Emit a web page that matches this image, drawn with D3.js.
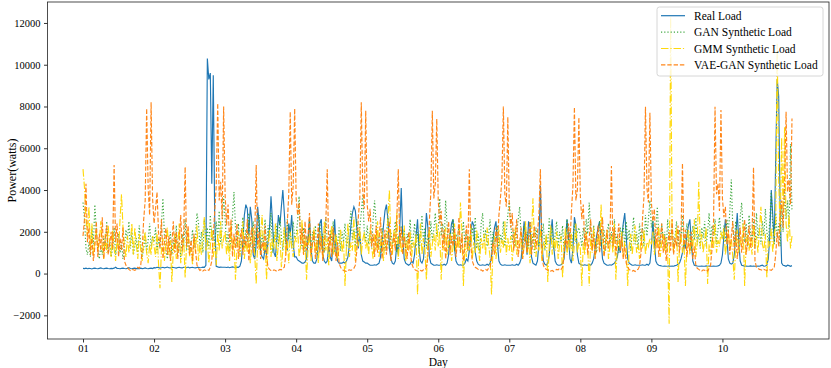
<!DOCTYPE html>
<html><head><meta charset="utf-8">
<script src="https://cdn.jsdelivr.net/npm/d3@7"></script>
<style>
body{margin:0;background:#fff}
svg{display:block}
text{font-family:"Liberation Serif","Times New Roman",Times,serif;fill:#000}
</style>
</head><body>
<svg id="chart" width="831" height="368"></svg>
<script>
// ---------------- data (30-minute samples, 10 days) ----------------
const dayLabels = ["01","02","03","04","05","06","07","08","09","10"];
const samplesPerDay = 48;
const seriesNames = ["Real Load","GAN Synthetic Load","GMM Synthetic Load","VAE-GAN Synthetic Load"];

const realLoad = [
250,240,260,230,250,240,220,250,260,240,230,250,270,240,230,250,260,240,230,250,240,260,300,250,240,230,250,260,240,230,250,280,240,230,250,260,240,250,230,260,240,250,270,240,230,250,260,240,
280,270,300,290,260,280,300,270,290,310,280,270,300,290,280,260,290,300,280,270,300,290,280,310,270,290,300,280,270,290,300,280,290,310,300,400,10300,9300,9600,4300,9500,2500,350,320,300,310,300,300,
300,290,310,280,300,320,300,290,310,300,350,600,1500,2800,3300,3100,1800,3200,2600,900,700,1400,3200,2400,1000,800,700,1200,900,1500,2200,3700,2500,1000,800,1700,2800,2300,3200,4000,2900,1600,1100,2400,1900,2800,1400,800,
800,650,600,550,500,500,550,700,1600,2600,1200,600,500,500,700,1400,2400,2600,900,600,500,600,1300,800,600,1500,2600,1100,600,500,500,500,550,500,600,800,1400,2300,2900,3200,3000,2200,1200,2000,900,600,550,500,
500,450,400,400,400,420,400,450,500,800,1500,2300,3000,3300,2600,1200,700,500,450,600,1400,900,2200,4100,1800,700,500,450,400,450,600,500,900,1800,2600,1200,600,500,700,1600,2900,2200,800,500,450,400,400,420,
400,400,420,400,450,400,500,900,1800,2400,2600,1200,600,450,400,420,400,400,500,700,600,1100,2000,2500,2300,1000,600,450,400,400,420,400,400,450,400,500,800,1600,2200,2500,1400,600,450,400,400,420,400,400,
400,400,420,400,400,450,400,500,700,1500,2500,1800,900,2500,2200,800,500,450,400,600,1400,4200,1500,600,450,400,500,900,1900,2600,1300,600,450,400,400,420,500,700,1600,2600,1800,700,500,1200,2700,2300,900,500,
450,400,400,420,400,400,450,400,500,700,1200,1800,2200,2500,1600,700,500,450,400,400,420,400,450,500,600,800,1300,1000,1700,2400,2900,1800,700,500,450,400,400,420,400,400,400,400,420,400,400,450,400,500,
1200,2500,1500,600,450,400,380,360,350,360,350,350,370,350,360,350,380,400,450,500,700,1000,1500,1200,1800,2300,2600,1500,600,400,380,360,350,350,360,350,350,370,350,360,350,350,360,350,350,370,400,500,
900,1800,2600,1700,700,500,450,500,900,1800,2900,1600,600,400,380,350,360,350,350,370,350,360,350,350,360,350,380,400,350,360,400,700,1800,4000,2800,1500,5500,9300,8500,3000,500,400,380,350,400,380,350,380
];

const ganLoad = [
3400,2600,1200,900,1500,800,2200,1400,3300,2000,1100,700,1300,900,1800,1200,2500,1000,1600,800,1200,2200,900,1400,1900,1000,1500,700,1300,2100,1600,2500,1200,2000,900,1300,1700,1000,2300,1400,800,1200,1900,1000,1600,2400,1300,1800,
1500,2200,1000,1700,1200,2400,3600,1800,1100,700,1400,2000,900,1600,1200,2300,1000,1500,800,1900,1300,2600,1100,1700,900,1400,2100,1200,1800,2900,2400,1300,2000,1000,2600,1500,2200,1200,2800,1600,2100,1300,2500,1700,3000,1400,2300,3700,
2600,1400,2000,1100,1700,2800,3900,2200,1300,2400,1000,1900,2700,1200,2100,1500,2900,1300,1800,2500,1000,2200,1600,2800,1100,1900,1400,2600,1200,2300,1700,2900,1000,2000,1500,2400,1300,2700,1800,1100,2200,1400,2600,1600,2100,1200,2500,1700,
1900,2500,3700,1600,1200,2200,1000,1800,1400,2600,1100,2000,1500,2300,900,1700,2400,1200,1900,1000,2700,1500,1200,2100,1600,2500,1000,1800,1300,2200,1100,2000,1500,2400,1200,1700,2300,3000,1600,2100,1300,2600,1800,2200,2900,3800,2000,1500,
2300,1400,2000,1200,2600,3500,2400,1300,1800,1000,2200,1500,1100,1900,2700,1200,2000,1400,1700,2500,1000,1800,1300,2300,1600,2100,1100,1900,1400,2600,1200,1700,2400,1300,2000,1000,1800,2800,1500,2200,1200,1900,1400,2500,1600,2100,2900,1800,
2100,3600,1800,2400,1500,3500,2300,1200,2000,1400,2600,1100,1900,1500,2300,1000,1700,2500,1300,2000,1100,1800,1400,2200,1600,2700,1200,1900,1000,2400,2900,1500,2100,1300,1800,2600,1100,2000,1400,1700,2300,1200,1900,1500,2500,1300,2000,2800,
3500,2400,1500,2100,1300,1900,2600,3200,1800,1100,2300,1500,2000,1200,2500,1400,1900,1000,2200,1600,1300,2100,1700,2400,1100,1800,1400,2700,1600,2200,1200,1900,2500,1300,2000,1500,2300,1000,1700,2600,1400,2100,1200,1800,2400,1500,2000,2200,
1800,1300,2200,1600,2600,1900,3400,2000,1200,2300,1500,1000,1900,2500,1300,1700,2100,1100,1800,2400,1400,2000,1200,2600,1500,1900,1000,2200,1700,2300,1300,2500,1600,2100,1100,1900,2700,1400,2000,1200,2400,1600,2200,1300,2800,1800,2600,3500,
2200,2700,1500,2100,3200,1800,1300,2400,1600,2000,1100,2600,1400,1900,2300,1200,1800,2500,1300,2100,1600,2800,1200,1700,2400,1500,2000,1100,2300,1600,2700,1400,1900,1200,2200,1700,2500,1300,2000,2900,1500,2300,1800,2600,1400,2100,2700,1900,
1700,2300,1500,2600,2000,3000,4500,2200,1400,2500,1800,1200,2700,3400,2100,1500,2400,1300,2800,1900,1600,2600,1200,2900,1700,2300,1400,2500,1800,3100,2000,1500,2600,3900,2200,1400,2900,1700,2400,1300,3300,2000,4100,2600,3500,2200,6200,3000
];

const gmmLoad = [
5000,4100,2600,1800,3200,1200,2400,900,1600,2000,1100,1500,2500,1300,700,1900,1000,2300,1400,800,2100,1200,600,1700,1100,2600,3800,2200,1300,800,1800,1000,1500,2400,900,2200,1400,700,1900,1100,600,1600,2000,1000,500,1400,900,1800,
1300,800,2000,500,-700,1200,1700,600,1400,2200,900,1600,-400,1100,1900,700,1300,2400,500,1000,1700,-200,1500,2100,800,1200,400,1800,1000,2300,600,1400,900,2000,2700,1100,1600,500,1300,2200,800,1500,400,1900,1100,2500,1200,1700,
2000,900,1500,600,2300,1100,1700,-300,1200,2000,800,1400,2500,700,1600,1000,1900,500,1300,2200,900,-500,1500,1100,1800,2800,1000,1600,-300,1300,2100,800,1700,1200,2400,600,1400,1900,300,1100,2200,900,1600,500,2000,1300,800,1800,
1500,2100,800,1300,2600,900,1700,-300,1200,1900,600,1400,2200,1000,1600,500,2000,1300,800,2500,1100,1700,400,1500,2300,900,1400,1900,700,1200,2100,1000,1600,-600,1300,2400,800,1500,1100,2700,600,1800,1300,2200,900,1600,2000,1200,
1600,900,2200,1300,700,1900,1100,2500,800,1400,2000,600,1700,1200,2600,4000,1500,900,2100,1300,2900,700,1800,1000,1400,2300,600,1600,1100,2000,800,1500,1200,1900,-1000,1300,2400,900,1700,1100,-300,1500,2200,800,1400,1900,1100,2400,
1300,2000,-300,1600,1100,2200,900,1500,1900,600,1300,2400,1000,1700,1200,3400,2000,-600,1400,800,1800,1100,2300,700,1500,1000,2100,1300,600,1700,1200,1900,900,2200,1400,800,-1000,1300,1800,700,1500,2100,1000,1600,1200,2500,900,1700,
1100,1800,600,1400,2200,900,1600,1200,2000,700,1300,2500,1000,1700,500,1900,3600,1400,800,1600,1100,2100,600,1500,1200,1900,-400,1300,2300,900,1700,1100,2000,700,1400,1800,-200,1300,2200,900,1600,1100,1900,600,1400,2400,1000,1500,
1200,-600,1500,900,2000,1300,-600,1700,1000,2200,800,1400,1900,1100,3300,1600,900,1500,2100,700,1300,1800,1000,2400,-300,1400,1700,1100,2000,800,1500,1200,-600,1300,1900,900,1600,2300,1000,1400,700,1800,1200,2100,900,1500,1300,1700,
1400,2000,900,1600,1200,2300,800,1500,1900,1100,1700,900,-2400,12270,1800,1000,1500,2200,-400,1300,1900,1000,1600,-600,1400,2100,900,1700,1200,2600,800,1500,4400,1300,1900,1000,1600,2200,-500,1400,900,1800,1200,2400,1000,1600,1300,2000,
1600,2200,900,1500,2000,1200,1700,800,-300,1400,2100,1000,1600,1300,2400,-600,1500,1900,1100,1700,900,2300,1300,1800,1000,2000,3200,1400,1100,1900,-200,1600,1300,2200,1000,1800,2500,11000,4500,2000,6500,3000,7000,2400,1500,2800,1200,1800
];

const vaeGanLoad = [
1800,2600,4300,1500,2200,900,1700,600,1300,2500,800,1900,1100,2700,700,1600,2300,900,1400,2000,1200,5200,1500,2400,800,1700,1100,2200,600,400,300,200,150,200,180,150,200,300,250,400,1200,2600,3500,7900,4100,2800,8200,3600,
2400,3100,3900,2000,1200,2600,700,1500,2200,900,1800,600,1400,2500,1000,2000,700,1600,2800,1100,1900,5100,1300,2300,900,1600,600,1900,1100,400,250,150,200,120,180,150,200,150,300,600,1800,3000,4200,8150,3500,4400,2600,8000,
3800,2300,3300,1500,2600,800,1900,1200,2400,700,1600,2100,900,1800,1300,2600,600,1500,2200,1000,1700,5200,1200,2000,700,1500,1100,2300,800,300,200,150,120,180,150,100,150,200,180,250,300,900,2400,3800,7750,3300,4200,7900,
3600,2800,3400,1400,2200,900,2500,1100,1700,2900,800,1500,2000,700,1300,2400,1000,1800,600,1400,2300,5000,1100,1900,800,2200,1300,600,1500,500,300,200,150,120,100,150,180,150,200,250,400,1100,2700,3600,8200,4000,3100,7800,
3300,2500,3100,1300,1900,800,2300,1000,1600,2700,700,1400,2100,900,1700,2500,600,1300,1900,1100,2600,5000,1400,2200,900,1800,1200,700,2000,1100,500,300,200,150,120,100,150,120,180,200,300,800,2500,3900,7800,3600,4300,7400,
3500,2400,3000,1200,2100,700,1600,2500,900,1800,1300,2200,800,1500,2700,1000,1900,600,1400,2300,1100,5000,1300,600,400,300,250,200,150,180,120,150,200,150,250,300,700,1500,900,2200,1300,2800,3600,4500,8000,3800,3200,7500,
3200,2200,2900,1100,1800,2600,800,1500,2200,700,1400,2000,1000,1700,2500,900,1600,2300,1200,1900,2800,5000,900,400,250,200,150,180,120,150,100,150,200,180,250,200,300,900,1800,1200,2400,1500,3000,4200,7960,3500,4000,7480,
3700,2600,3300,1300,2000,900,1700,2600,1100,1900,700,1500,2300,1000,1800,2700,800,1400,2100,1200,1700,5150,1300,2200,900,1600,2400,1100,1800,700,1300,500,300,200,150,120,150,100,180,200,350,1000,2600,3700,7990,4100,3400,7700,
3400,2500,3100,1200,2200,800,1600,2400,1000,1800,600,1400,2000,1100,2600,900,1700,1300,2300,1000,1900,5280,1200,2100,800,1500,1100,2000,700,1300,400,250,200,150,120,180,150,200,120,250,400,1200,2500,7990,3800,4300,3000,7830,
3600,2700,3200,1400,2100,900,1800,2500,1100,2000,700,1500,2200,1000,1700,2600,900,1500,2300,1200,1800,5090,600,300,250,200,180,150,200,170,150,200,180,150,220,300,900,2000,1300,2800,3500,2200,4400,7750,3900,4500,3300,7430
];

const yTickValues = [-2000,0,2000,4000,6000,8000,10000,12000];

// ---------------- layout ----------------
const FONT = "'Liberation Serif','Times New Roman',Times,serif";
const svg = d3.select("#chart");
const plot = {left:47.5, right:829, top:2, bottom:339};

const x = d3.scaleLinear().domain([-0.5, dayLabels.length + 0.5]).range([plot.left, plot.right]);
const all = realLoad.concat(ganLoad, gmmLoad, vaeGanLoad);
const ymin = d3.min(all), ymax = d3.max(all), pad = (ymax - ymin) * 0.05;
const y = d3.scaleLinear().domain([ymin - pad, ymax + pad]).range([plot.bottom, plot.top]);

svg.append("defs").append("clipPath").attr("id","clip")
  .append("rect").attr("x",plot.left).attr("y",plot.top)
  .attr("width",plot.right-plot.left).attr("height",plot.bottom-plot.top);

const styles = [
  {data: realLoad,   color:"#1f77b4", dash:null,              op:1},
  {data: ganLoad,    color:"#2ca02c", dash:"1.2,2",           op:0.9},
  {data: gmmLoad,    color:"#ffd700", dash:"7.5,1.9,1.2,1.9", op:0.95},
  {data: vaeGanLoad, color:"#ff7f0e", dash:"4.4,1.9",         op:0.95}
];

const line = d3.line().x((d,i)=>x(i/samplesPerDay)).y(d=>y(d));
const g = svg.append("g").attr("clip-path","url(#clip)");
styles.forEach(s=>{
  g.append("path").datum(s.data)
    .attr("d", line)
    .attr("fill","none")
    .attr("stroke", s.color)
    .attr("stroke-width", 1.15)
    .attr("stroke-opacity", s.op)
    .attr("stroke-dasharray", s.dash);
});

// axes
const xAxis = d3.axisBottom(x).tickValues(d3.range(dayLabels.length))
  .tickFormat(i=>dayLabels[i]).tickSizeOuter(0).tickSize(3.5).tickPadding(2);
const yAxis = d3.axisLeft(y).tickValues(yTickValues).tickFormat(d3.format("d"))
  .tickSizeOuter(0).tickSize(3.5).tickPadding(3.5);

const gx = svg.append("g").attr("transform",`translate(0,${plot.bottom})`).call(xAxis);
const gy = svg.append("g").attr("transform",`translate(${plot.left},0)`).call(yAxis);
[gx,gy].forEach(a=>{
  a.attr("font-family", FONT).attr("font-size", 10.5);
  a.select(".domain").remove();
  a.selectAll(".tick line").attr("stroke","#000").attr("stroke-width",0.8);
  a.selectAll(".tick text").style("font-size","10.5px")
   .style("font-family", FONT).attr("fill","#000");
});

// frame
svg.append("rect").attr("x",plot.left).attr("y",plot.top)
  .attr("width",plot.right-plot.left).attr("height",plot.bottom-plot.top)
  .attr("fill","none").attr("stroke","#222").attr("stroke-width",0.8);

// axis labels
svg.append("text").attr("x",(plot.left+plot.right)/2).attr("y",366)
  .attr("text-anchor","middle").style("font-size","11.5px").style("font-family", FONT).text("Day");
svg.append("text").attr("transform",`translate(16,${(plot.top+plot.bottom)/2}) rotate(-90)`)
  .attr("text-anchor","middle").style("font-size","12px").style("font-family", FONT).text("Power(watts)");

// legend
const lg = svg.append("g");
lg.append("rect").attr("x",657).attr("y",7).attr("width",166).attr("height",69).attr("rx",2.5)
  .attr("fill","#fff").attr("fill-opacity",0.8).attr("stroke","#ccc").attr("stroke-width",0.8);
seriesNames.forEach((name,k)=>{
  const yy = 15.7 + k*16.4;
  const s = styles[k];
  lg.append("line").attr("x1",661).attr("x2",685).attr("y1",yy).attr("y2",yy)
    .attr("stroke",s.color).attr("stroke-width",1.2).attr("stroke-opacity",s.op)
    .attr("stroke-dasharray",s.dash);
  lg.append("text").attr("x",694).attr("y",yy).attr("dy","0.35em")
    .style("font-size","11.5px").style("font-family", FONT).text(name);
});
</script>
</body></html>
